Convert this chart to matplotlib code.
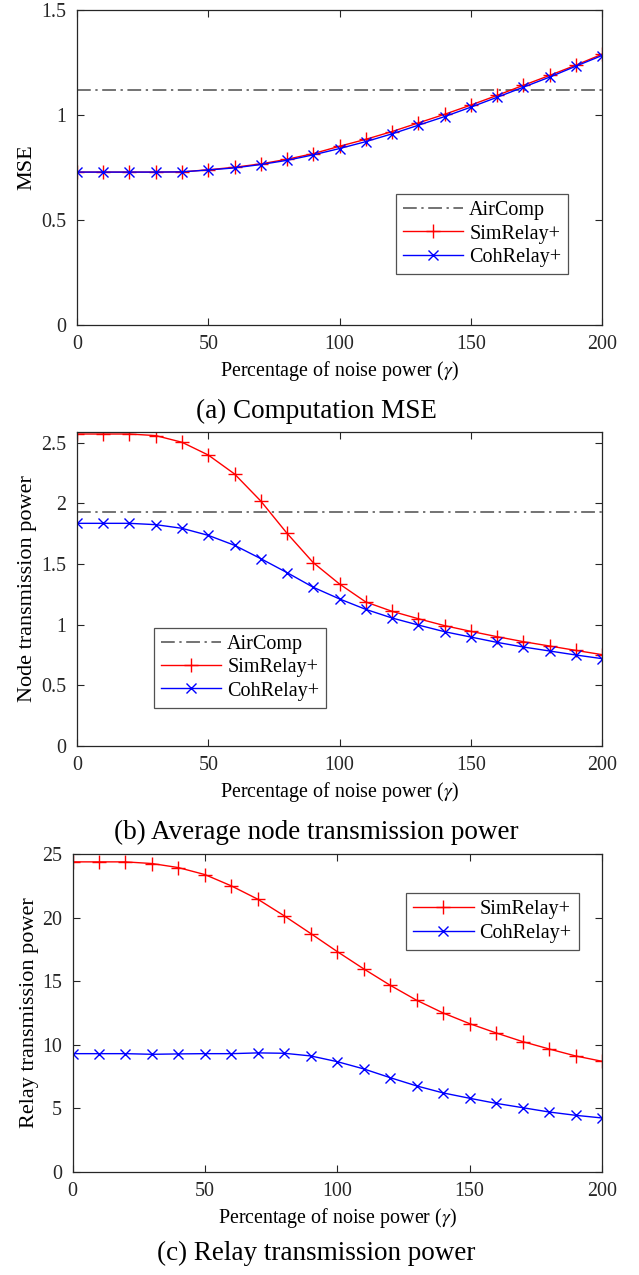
import matplotlib
matplotlib.use("Agg")
import matplotlib.pyplot as plt

plt.rcParams['font.family'] = ['Liberation Serif', 'DejaVu Serif']
plt.rcParams['mathtext.fontset'] = 'stix'

# noise power percentage (x axis)
gamma = [0, 10, 20, 30, 40, 50, 60, 70, 80, 90, 100, 110, 120, 130, 140, 150, 160, 170, 180, 190, 200]

# (a) computation MSE
aircomp_mse = 1.121
sim_mse = [0.728, 0.728, 0.728, 0.728, 0.729, 0.739, 0.751, 0.767, 0.789, 0.816, 0.851,
           0.884, 0.921, 0.962, 1.003, 1.047, 1.093, 1.141, 1.188, 1.237, 1.289]
coh_mse = [0.728, 0.728, 0.728, 0.728, 0.729, 0.738, 0.748, 0.764, 0.784, 0.810, 0.840,
           0.873, 0.910, 0.951, 0.992, 1.037, 1.084, 1.132, 1.180, 1.232, 1.283]

# (b) average node transmission power
aircomp_node = 1.929
sim_node = [2.571, 2.571, 2.571, 2.558, 2.503, 2.398, 2.242, 2.019, 1.753, 1.511, 1.335,
            1.187, 1.110, 1.049, 0.992, 0.945, 0.901, 0.860, 0.824, 0.788, 0.753]
coh_node = [1.835, 1.835, 1.835, 1.824, 1.794, 1.736, 1.654, 1.544, 1.429, 1.308, 1.212,
            1.126, 1.055, 0.997, 0.942, 0.898, 0.854, 0.816, 0.783, 0.750, 0.720]

# (c) relay transmission power
sim_relay = [24.40, 24.40, 24.40, 24.27, 23.95, 23.40, 22.51, 21.46, 20.15, 18.76, 17.34,
             15.98, 14.69, 13.51, 12.51, 11.67, 10.94, 10.26, 9.68, 9.13, 8.71]
coh_relay = [9.31, 9.31, 9.31, 9.26, 9.29, 9.31, 9.31, 9.37, 9.34, 9.13, 8.68,
             8.11, 7.42, 6.77, 6.22, 5.80, 5.40, 5.06, 4.72, 4.46, 4.25]

xlabel = r'Percentage of noise power ($\gamma$)'
FS = 14.4

fig = plt.figure(figsize=(6.39, 12.75), dpi=100)
ax1 = fig.add_axes([0.1205, 0.7451, 0.8216, 0.2471])
ax2 = fig.add_axes([0.1205, 0.4149, 0.8216, 0.2465])
ax3 = fig.add_axes([0.1135, 0.0808, 0.8286, 0.2492])

def style(ax, ylim, yticks, ylab, ypad):
    ax.set_xlim(0, 200)
    ax.set_ylim(*ylim)
    ax.set_xticks([0, 50, 100, 150, 200])
    ax.set_yticks(yticks)
    ax.tick_params(direction='in', top=True, right=True, length=5, width=0.8,
                   labelsize=FS, colors='0.15', pad=7.5)
    for s in ax.spines.values():
        s.set_linewidth(0.9)
        s.set_color('0.15')
    ax.set_xlabel(xlabel, fontsize=FS, labelpad=3)
    ax.set_ylabel(ylab, fontsize=16, labelpad=ypad)

def lines(ax, sim, coh, air=None):
    if air is not None:
        ax.axhline(air, color='0.3', lw=1.1, dashes=(9, 3, 1.5, 3), label='AirComp')
    ax.plot(gamma, sim, '-', color='red', lw=1.0, marker='+', ms=10, mew=1.0, label='SimRelay+')
    ax.plot(gamma, coh, '-', color='blue', lw=1.0, marker='x', ms=7, mew=1.0, label='CohRelay+')

def legend(ax, loc, anchor):
    lg = ax.legend(loc=loc, bbox_to_anchor=anchor, fontsize=14.5, handlelength=3.0,
                   frameon=True, fancybox=False, edgecolor='0.15', borderpad=0.35,
                   labelspacing=0.2, handletextpad=0.3, borderaxespad=0)
    lg.get_frame().set_linewidth(0.9)

lines(ax1, sim_mse, coh_mse, aircomp_mse)
style(ax1, (0, 1.5), [0, 0.5, 1, 1.5], 'MSE', 4)
ax1.set_yticklabels(['0', '0.5', '1', '1.5'])
legend(ax1, 'upper left', (0.607, 0.415))

lines(ax2, sim_node, coh_node, aircomp_node)
style(ax2, (0, 2.59), [0, 0.5, 1, 1.5, 2, 2.5], 'Node transmission power', 3)
ax2.set_yticklabels(['0', '0.5', '1', '1.5', '2', '2.5'])
legend(ax2, 'upper left', (0.146, 0.375))

lines(ax3, sim_relay, coh_relay)
style(ax3, (0, 25), [0, 5, 10, 15, 20, 25], 'Relay transmission power', 2)
legend(ax3, 'upper left', (0.63, 0.877))

fig.text(0.4945, 0.6776, '(a) Computation MSE', ha='center', va='center', fontsize=19.5)
fig.text(0.4945, 0.3475, '(b) Average node transmission power', ha='center', va='center', fontsize=19.5)
fig.text(0.4945, 0.0173, '(c) Relay transmission power', ha='center', va='center', fontsize=19.5)

fig.savefig('out.png', dpi=100)
